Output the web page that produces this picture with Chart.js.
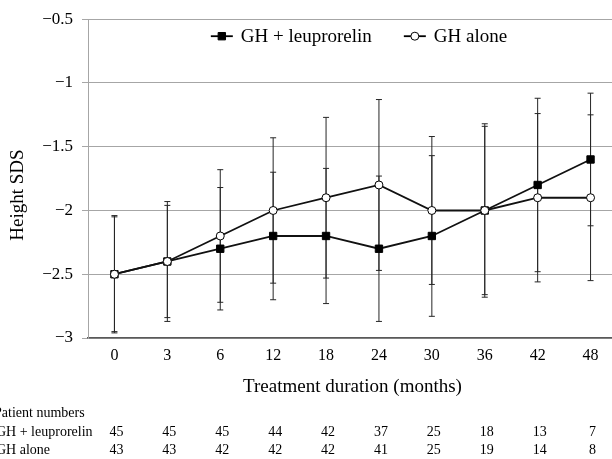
<!DOCTYPE html>
<html>
<head>
<meta charset="utf-8">
<script src="https://cdn.jsdelivr.net/npm/chart.js@4/dist/chart.umd.min.js"></script>
<style>
html, body { margin: 0; padding: 0; background: #fff; overflow: hidden; }
#wrap { position: relative; width: 617px; height: 459px; }
</style>
</head>
<body>
<div id="wrap"><canvas id="heightChart"></canvas></div>
<script>
const months = ['0', '3', '6', '12', '18', '24', '30', '36', '42', '48']
const leuproMean = [-2.5, -2.4, -2.3, -2.2, -2.2, -2.3, -2.2, -2.0, -1.8, -1.6]
const leuproSd = [0.45, 0.47, 0.48, 0.50, 0.53, 0.57, 0.63, 0.68, 0.68, 0.52]
const aloneMean = [-2.5, -2.4, -2.2, -2.0, -1.9, -1.8, -2.0, -2.0, -1.9, -1.9]
const aloneSd = [0.46, 0.44, 0.52, 0.57, 0.63, 0.67, 0.58, 0.66, 0.66, 0.65]
const leuproPatients = [45, 45, 45, 44, 42, 37, 25, 18, 13, 7]
const alonePatients = [43, 43, 42, 42, 42, 41, 25, 19, 14, 8]
const yTicks = [-3, -2.5, -2, -1.5, -1, -0.5]

const serif = '"Liberation Serif", "Times New Roman", serif'
Chart.defaults.font.family = serif
Chart.defaults.color = '#000'

const errorBars = {
    id: 'errorBars',
    beforeDatasetsDraw(chart) {
        const ctx = chart.ctx
        const xScale = chart.scales.x
        const yScale = chart.scales.y
        ctx.save()
        ctx.strokeStyle = '#262626'
        ctx.lineWidth = 1
        chart.data.datasets.forEach(dataset => {
            dataset.sd.forEach((sd, i) => {
                const x = xScale.getPixelForValue(i)
                const top = yScale.getPixelForValue(dataset.data[i] + sd)
                const bottom = yScale.getPixelForValue(dataset.data[i] - sd)
                ctx.beginPath()
                ctx.moveTo(x, top)
                ctx.lineTo(x, bottom)
                ctx.moveTo(x - 3, top)
                ctx.lineTo(x + 3, top)
                ctx.moveTo(x - 3, bottom)
                ctx.lineTo(x + 3, bottom)
                ctx.stroke()
            })
        })
        ctx.restore()
    },
}

function drawMarker(ctx, dataset, x, y) {
    ctx.lineWidth = 1
    ctx.strokeStyle = '#000'
    ctx.fillStyle = dataset.pointBackgroundColor
    ctx.beginPath()
    if (dataset.pointStyle === 'rect') {
        ctx.rect(x - 3.7, y - 3.7, 7.4, 7.4)
    } else {
        ctx.arc(x, y, dataset.pointRadius, 0, Math.PI * 2)
    }
    ctx.fill()
    ctx.stroke()
}

const extraText = {
    id: 'extraText',
    afterDraw(chart) {
        const ctx = chart.ctx
        const area = chart.chartArea
        const xScale = chart.scales.x
        ctx.save()

        // legend inside the plot
        ctx.font = '19px ' + serif
        ctx.textBaseline = 'middle'
        ctx.textAlign = 'left'
        const sets = chart.data.datasets
        const widths = sets.map(ds => ctx.measureText(ds.label).width)
        const total = widths.reduce((a, b) => a + b, 0) + sets.length * 30 + 32
        let cx = 359 - total / 2
        const ly = area.top + 17
        sets.forEach((ds, i) => {
            ctx.strokeStyle = '#000'
            ctx.lineWidth = 1.8
            ctx.beginPath()
            ctx.moveTo(cx, ly)
            ctx.lineTo(cx + 22, ly)
            ctx.stroke()
            drawMarker(ctx, ds, cx + 11, ly)
            ctx.fillStyle = '#000'
            ctx.fillText(ds.label, cx + 30, ly + 1)
            cx += 30 + widths[i] + 32
        })

        // y axis title
        ctx.save()
        ctx.translate(18, 195)
        ctx.rotate(-Math.PI / 2)
        ctx.textAlign = 'center'
        ctx.fillText('Height SDS', 0, 0)
        ctx.restore()

        // patient numbers table
        ctx.font = '14px ' + serif
        ctx.textAlign = 'left'
        ctx.fillText('Patient numbers', -6, 413)
        ctx.fillText('GH + leuprorelin', -4, 432)
        ctx.fillText('GH alone', -4, 450)
        ctx.textAlign = 'center'
        months.forEach((m, i) => {
            const x = xScale.getPixelForValue(i) + 2
            ctx.fillText(String(leuproPatients[i]), x, 432)
            ctx.fillText(String(alonePatients[i]), x, 450)
        })
        ctx.restore()
    },
}

new Chart(document.getElementById('heightChart'), {
    type: 'line',
    plugins: [errorBars, extraText],
    data: {
        labels: months,
        datasets: [
            {
                label: 'GH + leuprorelin',
                data: leuproMean,
                sd: leuproSd,
                order: 1,
                borderColor: '#111',
                borderWidth: 1.8,
                pointStyle: 'rect',
                pointRadius: 5.2,
                pointBackgroundColor: '#000',
                pointBorderColor: '#000',
                pointBorderWidth: 1,
                tension: 0,
            },
            {
                label: 'GH alone',
                data: aloneMean,
                sd: aloneSd,
                order: 0,
                borderColor: '#111',
                borderWidth: 1.8,
                pointStyle: 'circle',
                pointRadius: 4,
                pointBackgroundColor: '#fff',
                pointBorderColor: '#000',
                pointBorderWidth: 1,
                tension: 0,
            },
        ],
    },
    options: {
        responsive: true,
        maintainAspectRatio: false,
        animation: false,
        layout: {autoPadding: false, padding: {top: 15, right: 0, bottom: 61, left: 0}},
        plugins: {
            legend: {display: false},
            tooltip: {enabled: false},
        },
        scales: {
            x: {
                offset: true,
                grid: {display: false, drawTicks: false, offset: true},
                border: {display: true, color: '#595959', width: 1.5},
                ticks: {font: {size: 16}, color: '#000', padding: 8},
                title: {
                    display: true,
                    text: 'Treatment duration (months)',
                    font: {size: 19},
                    color: '#000',
                    padding: {top: 0, bottom: 0},
                },
                afterFit: scale => {
                    scale.height = 60
                    scale.paddingLeft = 0
                    scale.paddingRight = 0
                },
            },
            y: {
                min: -3,
                max: -0.5,
                afterBuildTicks: scale => { scale.ticks = yTicks.map(value => ({value})) },
                grid: {color: '#a6a6a6', lineWidth: 1, tickLength: 6},
                border: {display: true, color: '#a6a6a6', width: 1},
                ticks: {
                    font: {size: 17},
                    color: '#000',
                    padding: 9,
                    callback: value => String(value).replace('-', '\u2212'),
                },
                afterFit: scale => { scale.width = 88 },
            },
        },
    },
})
</script>
</body>
</html>
